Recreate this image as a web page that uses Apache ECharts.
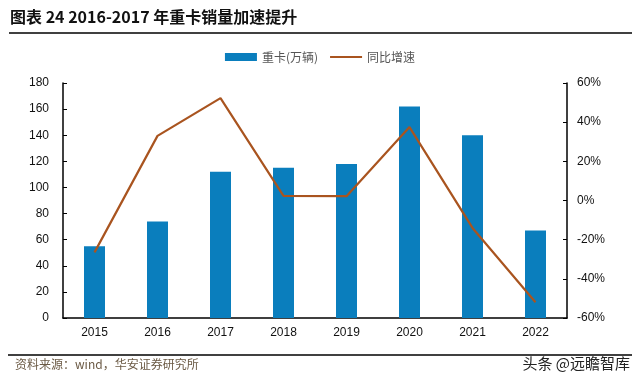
<!DOCTYPE html>
<html><head><meta charset="utf-8">
<script src="https://cdn.jsdelivr.net/npm/echarts@6/dist/echarts.min.js"></script>
<style>html,body{margin:0;padding:0;background:#fff}#c{width:640px;height:387px}</style>
</head><body><div id="c"></div>
<script>
const years = ['2015','2016','2017','2018','2019','2020','2021','2022'];
const trucks = [55, 74, 112, 115, 118, 162, 140, 67];
const growth = [-26.5, 33, 52.3, 2.4, 2.2, 37.5, -14, -52];
const leftTicks = [0, 180, 20];
const rightTicks = [-60, 60, 20];

const chart = echarts.init(document.getElementById('c'), null, {renderer:'canvas'});
const cjk = '"Noto Sans CJK SC", sans-serif';
const lat = '"Liberation Sans", Arial, sans-serif';
chart.setOption({
  animation:false,
  graphic:[
    {type:'text', left:10, top:9, style:{text:'图表 24 2016-2017 年重卡销量加速提升', font:'bold 16px '+cjk, fill:'#111'}},
    {type:'line', shape:{x1:9,y1:33,x2:632,y2:33}, style:{stroke:'#000', lineWidth:1.5}},
    {type:'line', shape:{x1:8,y1:355,x2:632,y2:355}, style:{stroke:'#000', lineWidth:1.5}},
    {type:'text', left:15, top:358, style:{text:'资料来源：wind，华安证券研究所', font:'12px '+cjk, fill:'#6b5a45'}},
    {type:'text', right:10, top:356, style:{text:'头条 @远瞻智库', font:'15px '+cjk, fill:'#222'}}
  ],
  legend:{
    top:46, left:'center', itemGap:12, itemWidth:32, itemHeight:8,
    textStyle:{fontFamily:cjk, fontSize:12, color:'#555'},
    data:[{name:'重卡(万辆)', icon:'rect'}, {name:'同比增速', icon:'path://M0,0 L32,0 L32,2.2 L0,2.2 Z'}]
  },
  grid:{left:63, right:73, top:83, bottom:69},
  xAxis:{
    type:'category', data:years,
    axisLine:{lineStyle:{color:'#000', width:1.5}},
    axisTick:{inside:true, length:4, lineStyle:{color:'#000'}},
    axisLabel:{color:'#111', fontFamily:lat, fontSize:12, margin:9}
  },
  yAxis:[
    {type:'value', min:leftTicks[0], max:leftTicks[1], interval:leftTicks[2],
     axisLine:{show:true, lineStyle:{color:'#000', width:1.5}},
     axisTick:{show:true, inside:true, length:4, lineStyle:{color:'#000'}},
     splitLine:{show:false},
     axisLabel:{color:'#111', fontFamily:lat, fontSize:12, margin:14}},
    {type:'value', min:rightTicks[0], max:rightTicks[1], interval:rightTicks[2],
     axisLine:{show:true, lineStyle:{color:'#000', width:1.5}},
     axisTick:{show:true, inside:true, length:4, lineStyle:{color:'#000'}},
     splitLine:{show:false},
     axisLabel:{color:'#111', fontFamily:lat, fontSize:12, margin:10, formatter:'{value}%'}}
  ],
  series:[
    {name:'重卡(万辆)', type:'bar', data:trucks, barWidth:21, itemStyle:{color:'#0a7ebd'}},
    {name:'同比增速', type:'line', yAxisIndex:1, data:growth, symbol:'none',
     lineStyle:{color:'#a9541f', width:2.2}, itemStyle:{color:'#a9541f'}}
  ]
});
</script></body></html>
